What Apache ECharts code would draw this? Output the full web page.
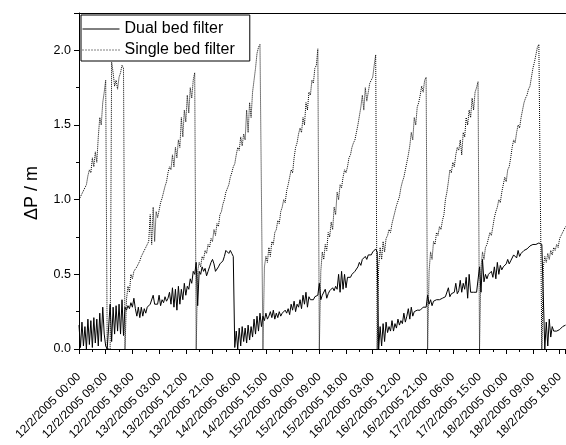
<!DOCTYPE html>
<html>
<head>
<meta charset="utf-8">
<script src="https://cdn.jsdelivr.net/npm/echarts@6/dist/echarts.min.js"></script>
<style>
html,body{margin:0;padding:0;background:#fff;}
#chart{width:566px;height:445px;}
</style>
</head>
<body>
<div id="chart"></div>
<script>
// Hours since 12/2/2005 00:00
const hours = [
0,0.5,1,1.5,2,2.5,3,3.5,4,4.5,
5,5.5,6,6.5,7,7.5,8,8.5,9,9.5,
10,10.5,11,11.5,12,12.5,13,13.5,14,14.5,
15,15.5,16,16.5,17,17.5,18,18.5,19,19.5,
20,20.5,21,21.5,22,22.5,23,23.5,24,24.5,
25,25.5,26,26.5,27,27.5,28,28.5,29,29.5,
30,30.5,31,31.5,32,32.5,33,33.5,34,34.5,
35,35.5,36,36.5,37,37.5,38,38.5,39,39.5,
40,40.5,41,41.5,42,42.5,43,43.5,44,44.5,
45,45.5,46,46.5,47,47.5,48,48.5,49,49.5,
50,50.5,51,51.5,52,52.5,53,53.5,54,54.5,
55,55.5,56,56.5,57,57.5,58,58.5,59,59.5,
60,60.5,61,61.5,62,62.5,63,63.5,64,64.5,
65,65.5,66,66.5,67,67.5,68,68.5,69,69.5,
70,70.5,71,71.5,72,72.5,73,73.5,74,74.5,
75,75.5,76,76.5,77,77.5,78,78.5,79,79.5,
80,80.5,81,81.5,82,82.5,83,83.5,84,84.5,
85,85.5,86,86.5,87,87.5,88,88.5,89,89.5,
90,90.5,91,91.5,92,92.5,93,93.5,94,94.5,
95,95.5,96,96.5,97,97.5,98,98.5,99,99.5,
100,100.5,101,101.5,102,102.5,103,103.5,104,104.5,
105,105.5,106,106.5,107,107.5,108,108.5,109,109.5,
110,110.5,111,111.5,112,112.5,113,113.5,114,114.5,
115,115.5,116,116.5,117,117.5,118,118.5,119,119.5,
120,120.5,121,121.5,122,122.5,123,123.5,124,124.5,
125,125.5,126,126.5,127,127.5,128,128.5,129,129.5,
130,130.5,131,131.5,132,132.5,133,133.5,134,134.5,
135,135.5,136,136.5,137,137.5,138,138.5,139,139.5,
140,140.5,141,141.5,142,142.5,143,143.5,144,144.5,
145,145.5,146,146.5,147,147.5,148,148.5,149,149.5,
150,150.5,151,151.5,152,152.5,153,153.5,154,154.5,
155,155.5,156,156.5,157,157.5,158,158.5,159,159.5,
160,160.5,161,161.5,162,162.5,163,163.5,164
];

const dualBed = [
0.16,0.01,0.18,0.02,0.15,0.00,0.20,0.03,0.19,0.01,
0.21,0.04,0.20,0.02,0.24,0.05,0.28,0.10,0.02,0.00,
0.00,0.30,0.05,0.28,0.10,0.29,0.12,0.30,0.10,0.33,
0.09,0.28,0.26,0.29,0.27,0.31,0.28,0.34,0.27,0.22,
0.28,0.21,0.28,0.22,0.27,0.24,0.28,0.29,0.30,0.29,
0.36,0.30,0.31,0.30,0.36,0.29,0.33,0.31,0.35,0.32,
0.34,0.38,0.30,0.41,0.28,0.40,0.26,0.42,0.30,0.40,
0.33,0.44,0.36,0.42,0.40,0.47,0.44,0.52,0.50,0.58,
0.29,0.52,0.50,0.55,0.52,0.54,0.49,0.52,0.55,0.58,
0.60,0.57,0.52,0.51,0.55,0.57,0.56,0.59,0.62,0.66,
0.67,0.64,0.66,0.64,0.62,0.01,0.12,0.00,0.14,0.02,
0.15,0.05,0.14,0.04,0.16,0.06,0.15,0.08,0.20,0.10,
0.22,0.12,0.24,0.15,0.22,0.19,0.24,0.20,0.22,0.25,
0.21,0.26,0.20,0.24,0.21,0.25,0.22,0.24,0.23,0.26,
0.24,0.27,0.23,0.30,0.26,0.32,0.25,0.30,0.28,0.33,
0.27,0.36,0.30,0.38,0.28,0.35,0.33,0.34,0.33,0.35,
0.34,0.36,0.44,0.33,0.36,0.35,0.40,0.34,0.37,0.39,
0.38,0.41,0.39,0.42,0.40,0.50,0.38,0.52,0.40,0.50,
0.41,0.48,0.47,0.48,0.50,0.49,0.52,0.53,0.55,0.58,
0.56,0.60,0.59,0.62,0.60,0.63,0.64,0.63,0.65,0.66,
0.67,0.65,0.00,0.15,0.02,0.17,0.05,0.18,0.11,0.15,
0.12,0.19,0.12,0.17,0.14,0.20,0.16,0.19,0.17,0.24,
0.18,0.22,0.27,0.20,0.28,0.22,0.25,0.24,0.26,0.27,
0.26,0.27,0.28,0.27,0.28,0.36,0.30,0.33,0.29,0.32,
0.31,0.33,0.32,0.33,0.33,0.34,0.34,0.35,0.34,0.41,
0.35,0.37,0.36,0.38,0.44,0.37,0.39,0.46,0.38,0.44,
0.40,0.48,0.34,0.50,0.38,0.39,0.38,0.39,0.38,0.37,
0.55,0.38,0.60,0.45,0.50,0.47,0.50,0.49,0.52,0.48,
0.55,0.47,0.58,0.50,0.56,0.53,0.55,0.56,0.57,0.60,
0.57,0.59,0.60,0.63,0.62,0.61,0.66,0.62,0.64,0.63,
0.66,0.66,0.67,0.68,0.69,0.69,0.70,0.70,0.70,0.71,
0.71,0.71,0.70,0.71,0.00,0.18,0.02,0.20,0.08,0.15,
0.12,0.13,0.12,0.13,0.13,0.14,0.15,0.15,0.16
];

const singleBed = [
1.00,1.02,1.04,1.06,1.08,1.10,1.16,1.20,1.18,1.28,
1.22,1.32,1.25,1.42,1.55,1.50,1.65,1.72,1.80,0.00,
0.00,0.00,1.92,1.85,1.76,1.80,1.74,1.82,1.85,1.90,
1.88,0.00,0.33,0.42,0.38,0.50,0.47,0.52,0.53,0.55,
0.57,0.59,0.62,0.64,0.66,0.68,0.70,0.72,0.90,0.70,
0.95,0.72,0.92,0.88,0.93,0.98,1.01,1.05,1.09,1.12,
1.18,1.22,1.20,1.30,1.22,1.35,1.28,1.40,1.35,1.55,
1.42,1.60,1.52,1.70,1.58,1.75,1.68,1.80,1.85,0.00,
0.52,0.58,0.55,0.62,0.60,0.66,0.64,0.70,0.68,0.74,
0.72,0.80,0.76,0.84,0.82,0.90,0.92,0.97,1.00,1.05,
1.04,1.10,1.15,1.18,1.22,1.24,1.30,1.35,1.33,1.42,
1.36,1.44,1.40,1.60,1.45,1.65,1.55,1.72,1.80,1.88,
1.98,2.02,2.04,2.03,0.00,0.55,0.62,0.58,0.68,0.62,
0.72,0.70,0.78,0.80,0.86,0.84,0.92,0.95,1.00,0.98,
1.06,1.10,1.15,1.20,1.18,1.28,1.35,1.38,1.44,1.48,
1.45,1.55,1.50,1.65,1.60,1.72,1.70,1.80,1.78,1.88,
1.90,2.01,0.00,0.52,0.65,0.60,0.70,0.66,0.78,0.75,
0.85,0.80,0.95,0.90,1.05,1.00,1.10,1.08,1.15,1.20,
1.18,1.22,1.28,1.30,1.35,1.38,1.40,1.45,1.50,1.56,
1.62,1.70,1.60,1.75,1.66,1.72,1.78,1.80,1.82,1.90,
1.97,0.00,0.55,0.68,0.60,0.72,0.65,0.74,0.76,0.80,
0.78,0.84,0.88,0.92,0.96,0.95,1.02,1.08,1.12,1.15,
1.20,1.25,1.30,1.36,1.45,1.40,1.55,1.50,1.62,1.65,
1.70,1.76,1.72,1.80,1.82,0.00,0.52,0.65,0.60,0.72,
0.70,0.78,0.76,0.82,0.80,0.86,0.90,1.00,1.05,1.12,
1.20,1.18,1.25,1.22,1.30,1.35,1.33,1.40,1.30,1.45,
1.42,1.55,1.50,1.60,1.55,1.68,1.60,1.72,1.75,1.79,
0.00,0.55,0.65,0.60,0.68,0.70,0.74,0.78,0.76,0.82,
0.88,0.92,0.95,1.00,0.98,1.05,1.10,1.15,1.12,1.20,
1.22,1.28,1.35,1.40,1.38,1.45,1.50,1.48,1.55,1.60,
1.65,1.68,1.70,1.74,1.76,1.82,1.88,1.92,1.97,2.02,
2.04,2.03,0.00,0.55,0.62,0.58,0.64,0.60,0.66,0.63,
0.68,0.66,0.70,0.68,0.74,0.76,0.78,0.80,0.82
];

const seriesNames = ['Dual bed filter', 'Single bed filter'];

const xTickLabels = [
'12/2/2005 00:00','12/2/2005 09:00','12/2/2005 18:00',
'13/2/2005 03:00','13/2/2005 12:00','13/2/2005 21:00',
'14/2/2005 06:00','14/2/2005 15:00','15/2/2005 00:00',
'15/2/2005 09:00','15/2/2005 18:00','16/2/2005 03:00',
'16/2/2005 12:00','16/2/2005 21:00','17/2/2005 06:00',
'17/2/2005 15:00','18/2/2005 00:00','18/2/2005 09:00',
'18/2/2005 18:00'
];
const yTickLabels = ['0.0','0.5','1.0','1.5','2.0'];
const yTitle = 'ΔP / m';

const FONT = '"Liberation Sans", Arial, Helvetica, sans-serif';
const chart = echarts.init(document.getElementById('chart'), null, {renderer: 'canvas'});

function pairs(xs, ys) { return xs.map((x, i) => [x, ys[i]]); }

const option = {
  animation: false,
  backgroundColor: '#fff',
  textStyle: {fontFamily: FONT},
  grid: {left: 79, right: 0, top: 13, bottom: 96, containLabel: false},
  legend: {
    show: true,
    orient: 'vertical',
    left: 81,
    top: 15,
    data: [
      {name: seriesNames[0]},
      {name: seriesNames[1], lineStyle: {type: [1, 2], color: '#000', width: 1}}
    ],
    itemWidth: 37,
    itemHeight: 14,
    itemGap: 5,
    padding: [6, 15, 3, 1],
    backgroundColor: '#fff',
    borderColor: '#000',
    borderWidth: 1,
    borderRadius: 0,
    itemStyle: {opacity: 0, borderWidth: 0},
    lineStyle: {width: 1, opacity: 1},
    textStyle: {fontSize: 16, color: '#000', fontFamily: FONT, lineHeight: 16}
  },
  xAxis: [{
    type: 'value', min: 0, max: 164, interval: 9, position: 'bottom',
    axisLine: {show: true, onZero: false, lineStyle: {color: '#000', width: 1}},
    axisTick: {show: true, inside: false, length: 5, lineStyle: {color: '#000', width: 1}},
    minorTick: {show: true, splitNumber: 2, length: 3, lineStyle: {color: '#000', width: 1}},
    splitLine: {show: false},
    minorSplitLine: {show: false},
    axisLabel: {
      rotate: 45, fontSize: 12, color: '#000', margin: 26, fontFamily: FONT,
      showMaxLabel: false, showMinLabel: true,
      formatter: function (v) {
        const k = Math.round(v / 9);
        return (Math.abs(v - k * 9) < 1e-6 && k < xTickLabels.length) ? xTickLabels[k] : '';
      }
    }
  }, {
    type: 'value', min: 0, max: 164, position: 'top',
    axisLine: {show: true, onZero: false, lineStyle: {color: '#000', width: 1}},
    axisTick: {show: false}, axisLabel: {show: false}, splitLine: {show: false}
  }],
  yAxis: {
    type: 'value', min: 0, max: 2.25, interval: 0.5,
    axisLine: {show: true, onZero: false, lineStyle: {color: '#000', width: 1}},
    axisTick: {show: true, inside: false, length: 5, lineStyle: {color: '#000', width: 1}},
    minorTick: {show: true, splitNumber: 2, length: 3, lineStyle: {color: '#000', width: 1}},
    splitLine: {show: false},
    axisLabel: {
      fontSize: 12.5, color: '#000', margin: 8, fontFamily: FONT, showMaxLabel: false,
      formatter: function (v) {
        const k = Math.round(v / 0.5);
        return (Math.abs(v - k * 0.5) < 1e-6 && k < yTickLabels.length) ? yTickLabels[k] : '';
      }
    }
  },
  graphic: [{
    type: 'text',
    x: 32, y: 193,
    rotation: Math.PI / 2,
    style: {
      text: yTitle, fill: '#000', fontSize: 18, fontFamily: FONT,
      align: 'center', verticalAlign: 'middle',
      textAlign: 'center', textVerticalAlign: 'middle'
    }
  }],
  series: [{
    name: seriesNames[0],
    type: 'line',
    data: pairs(hours, dualBed),
    showSymbol: false, symbol: 'none',
    lineStyle: {color: '#000', width: 1, type: 'solid'},
    itemStyle: {color: '#000'},
    clip: true, z: 3
  }, {
    name: seriesNames[1],
    type: 'line',
    data: pairs(hours, singleBed),
    showSymbol: false, symbol: 'none',
    lineStyle: {color: '#000', width: 1, type: 'dotted'},
    itemStyle: {color: '#000'},
    clip: true, z: 2
  }]
};
chart.setOption(option);
</script>
</body>
</html>
